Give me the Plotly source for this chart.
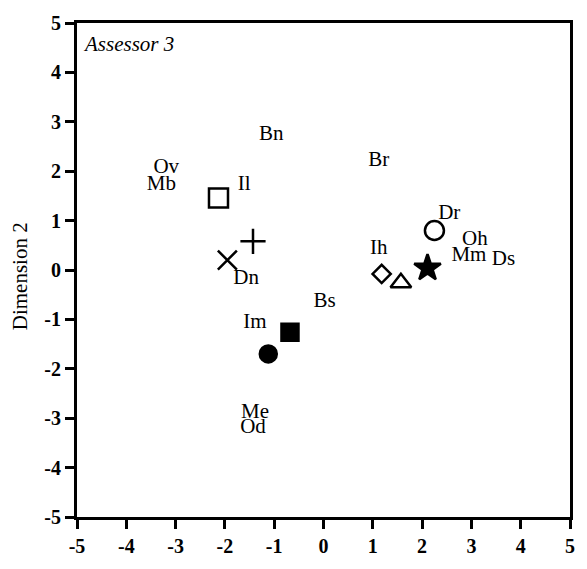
import plotly.graph_objects as go

# Product symbols on the perceptual map (Dimension 1 vs Dimension 2)
symbol_x = [-2.13, -1.43, -1.95, -1.12, -0.68, 1.18, 1.57, 2.11, 2.25]
symbol_y = [1.46, 0.58, 0.20, -1.70, -1.26, -0.08, -0.26, 0.04, 0.80]
symbol_shapes = ["square-open", "cross-thin", "x-thin", "circle", "square",
                 "diamond-open", "triangle-up-open", "star", "circle-open"]
symbol_sizes = [19, 18, 19, 17, 17, 14, 18, 20, 19]

# Attribute labels
label_text = ["Bn", "Br", "Ov", "Mb", "Il", "Dn", "Im", "Bs", "Ih",
              "Dr", "Oh", "Mm", "Ds", "Me", "Od"]
label_x = [-1.06, 1.12, -3.19, -3.29, -1.61, -1.57, -1.39, 0.02, 1.12,
           2.55, 3.07, 2.95, 3.65, -1.39, -1.43]
label_y = [2.73, 2.21, 2.08, 1.73, 1.73, -0.18, -1.06, -0.64, 0.44,
           1.14, 0.62, 0.28, 0.20, -2.89, -3.19]

tick_vals = [-5, -4, -3, -2, -1, 0, 1, 2, 3, 4, 5]
tick_text = ["-5", "-4", "-3", "-2", "-1", "0", "1", "2", "3", "4", "5"]

serif = "Liberation Serif"

fig = go.Figure()

fig.add_trace(go.Scatter(
    x=symbol_x, y=symbol_y, mode="markers",
    marker=dict(symbol=symbol_shapes, size=symbol_sizes, color="#000000",
                opacity=1, line=dict(color="#000000", width=2.5)),
    showlegend=False, hoverinfo="skip",
))

fig.add_trace(go.Scatter(
    x=label_x, y=label_y, mode="text", text=label_text,
    textfont=dict(family=serif, size=21, color="#000000"),
    textposition="middle center",
    showlegend=False, hoverinfo="skip",
))

axis_style = dict(
    range=[-5, 5], tickvals=tick_vals, ticktext=tick_text,
    showgrid=False, zeroline=False,
    showline=True, linewidth=3, linecolor="#000000", mirror=True,
    ticks="outside", ticklen=9, tickwidth=3, tickcolor="#000000",
    tickfont=dict(family=serif, size=20, color="#000000", weight="bold"),
)

fig.update_layout(
    width=587, height=569,
    margin=dict(l=77, r=12, t=20, b=48),
    plot_bgcolor="white", paper_bgcolor="white",
    xaxis=axis_style,
    yaxis=axis_style,
)

fig.add_annotation(
    text="<i>Assessor 3</i>", xref="paper", yref="paper",
    x=0.008, y=0.985, xanchor="left", yanchor="top", showarrow=False,
    font=dict(family=serif, size=21, color="#000000"),
)

fig.add_annotation(
    text="Dimension 2", xref="paper", yref="paper",
    x=-0.114, y=0.487, xanchor="center", yanchor="middle", showarrow=False,
    textangle=-90, font=dict(family=serif, size=21, color="#000000"),
)

fig.write_html("out.html")
